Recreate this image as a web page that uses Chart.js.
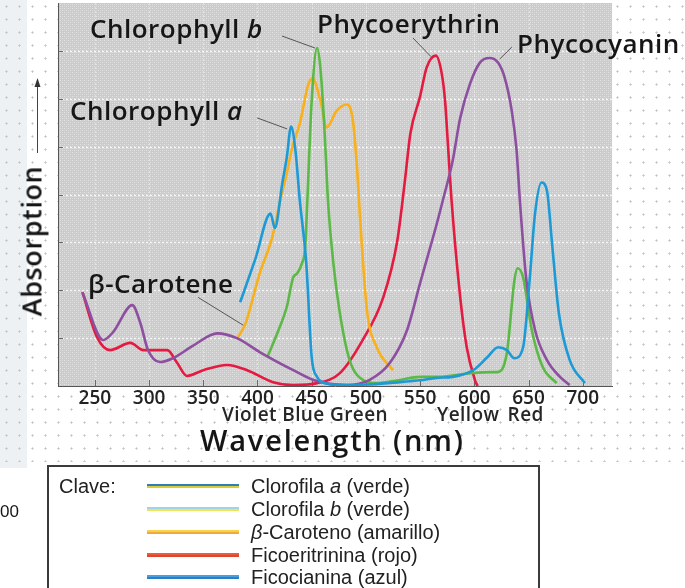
<!DOCTYPE html>
<html>
<head>
<meta charset="utf-8">
<script src="https://cdn.jsdelivr.net/npm/chart.js@4.4.1/dist/chart.umd.min.js"></script>
<style>
  html,body{margin:0;padding:0;}
  body{width:685px;height:588px;position:relative;overflow:hidden;background:#fff;font-family:"Open Sans",sans-serif;}
  #dots{position:absolute;left:0;top:0;width:685px;height:462px;
    background-image:radial-gradient(circle,#c2c2c2 0.9px,transparent 1.2px);background-size:13px 13px;}
  #strip{position:absolute;left:0;top:0;width:27px;height:468px;background:#edf1f4;}
  #c{position:absolute;left:0;top:0;}
  .t{position:absolute;white-space:nowrap;color:#161616;line-height:1;}
  .lab{font-size:26px;font-weight:600;letter-spacing:0.5px;}
  .sub{font-size:19px;font-weight:600;letter-spacing:0.4px;color:#262626;}
  #xtitle{left:200px;top:425px;font-size:29px;font-weight:600;letter-spacing:1.8px;}
  #ytitle{left:31px;top:241px;font-size:27px;font-weight:600;letter-spacing:0.6px;transform:translate(-50%,-50%) rotate(-90deg);}
  #key{position:absolute;left:47px;top:465px;width:489px;height:140px;border:2px solid #3b3b3b;background:#fff;
    font-family:"Liberation Sans",Arial,sans-serif;font-size:20px;color:#222;}
  #key .row{position:absolute;left:202px;line-height:1;}
  #key .sw{position:absolute;left:98px;width:92px;height:4px;}
  #key i{font-style:italic;}
</style>
</head>
<body>
<div id="strip"></div>
<div id="dots"></div>
<canvas id="c" width="685" height="588"></canvas>

<div class="t lab" style="left:90px;top:15px">Chlorophyll <i>b</i></div>
<div class="t lab" style="left:317px;top:10px">Phycoerythrin</div>
<div class="t lab" style="left:517px;top:30px">Phycocyanin</div>
<div class="t lab" style="left:70px;top:97px">Chlorophyll <i>a</i></div>
<div class="t lab" style="left:88px;top:270px">β-Carotene</div>

<div class="t sub" style="left:222px;top:405px">Violet Blue Green</div>
<div class="t sub" style="left:437px;top:405px;word-spacing:3px">Yellow Red</div>
<div class="t" id="xtitle">Wavelength (nm)</div>
<div class="t" id="ytitle">Absorption</div>
<div class="t" style="left:0;top:503px;font-size:17px;font-family:'Liberation Sans',Arial,sans-serif">00</div>

<div id="key">
  <div class="row" style="left:10px;top:9px">Clave:</div>
  <div class="sw" style="top:17px;background:linear-gradient(#2f7fb4 50%,#d9cc3a 50%)"></div>
  <div class="row" style="top:9px">Clorofila <i>a</i> (verde)</div>
  <div class="sw" style="top:40px;background:linear-gradient(#9fd3e8 50%,#efe35a 50%)"></div>
  <div class="row" style="top:32px">Clorofila <i>b</i> (verde)</div>
  <div class="sw" style="top:63px;background:linear-gradient(#f6d24a 50%,#f0a93a 50%)"></div>
  <div class="row" style="top:55px"><i>β</i>-Caroteno (amarillo)</div>
  <div class="sw" style="top:86px;background:linear-gradient(#ec5a3c 50%,#e2452e 50%)"></div>
  <div class="row" style="top:78px">Ficoeritrinina (rojo)</div>
  <div class="sw" style="top:108px;background:linear-gradient(#4aa0dc 50%,#2c7fc4 50%)"></div>
  <div class="row" style="top:100px">Ficocianina (azul)</div>
</div>

<script>
// wavelength axis ticks (nm) and absorption gridlines
const wavelengthTicks = [250, 300, 350, 400, 450, 500, 550, 600, 650, 700];
const absorptionTicks = [1, 2, 3, 4, 5, 6, 7];

// Chlorophyll a (blue)
const chlA_nm  = [384, 398, 412, 416, 423, 427, 431, 435, 439, 445, 450, 455, 460, 470, 485, 500, 520, 540, 550, 565, 580, 599, 612, 622, 630, 637, 645, 651, 656, 662, 667, 672, 678, 688, 702];
const chlA_abs = [1.75, 2.65, 3.60, 3.30, 4.25, 4.77, 5.42, 4.92, 3.88, 2.56, 0.60, 0.19, 0.08, 0.03, 0.02, 0.03, 0.06, 0.10, 0.12, 0.17, 0.19, 0.33, 0.60, 0.81, 0.75, 0.58, 0.81, 2.21, 3.60, 4.25, 4.08, 2.90, 1.52, 0.54, 0.06];

// Chlorophyll b (green)
const chlB_nm  = [409, 420, 427, 433, 436.5, 441, 444, 446, 450, 455, 458, 462, 465, 470, 476, 485, 497, 510, 530, 550, 565, 580, 599, 615, 621, 630, 637, 640, 645, 653, 663, 676];
const chlB_abs = [0.60, 1.20, 1.65, 2.27, 2.35, 2.56, 2.90, 3.88, 5.96, 7.06, 6.65, 5.27, 3.88, 2.56, 1.52, 0.54, 0.13, 0.06, 0.12, 0.19, 0.19, 0.22, 0.27, 0.29, 0.29, 0.69, 2.21, 2.46, 2.27, 1.17, 0.40, 0.06];

// beta-carotene (orange)
const carot_nm  = [381, 389, 402, 413.5, 421, 427, 432, 439, 447, 451, 458, 464, 473, 482.5, 488, 492, 494.5, 501, 510, 525];
const carot_abs = [0.98, 1.31, 2.35, 3.10, 3.88, 4.44, 4.98, 5.48, 6.31, 6.42, 5.96, 5.40, 5.75, 5.88, 5.54, 4.50, 3.55, 1.58, 0.81, 0.33];

// Phycoerythrin (red)
const phycoE_nm  = [238.5, 252, 264, 282.7, 294.7, 310, 316.8, 326, 335, 350, 372, 390.5, 414.4, 433, 455, 476, 497, 516, 529, 536, 541, 550, 556, 564.5, 570, 573, 576, 579, 587, 593, 600.5, 603];
const phycoE_abs = [1.96, 1.02, 0.75, 0.90, 0.75, 0.75, 0.75, 0.48, 0.21, 0.33, 0.44, 0.33, 0.08, 0.02, 0.06, 0.27, 0.96, 1.85, 3.04, 4.29, 5.27, 6.05, 6.65, 6.90, 6.52, 5.96, 4.92, 3.88, 1.85, 0.81, 0.13, 0.0];

// Phycocyanin (purple)
const phycoC_nm  = [238.5, 257.8, 267, 284.5, 292, 299, 310, 322, 341, 363, 381, 402, 433, 451, 465, 482.5, 503.5, 522, 538, 550, 565.5, 571, 580, 587, 596, 605, 614, 622, 628, 634.5, 639, 642, 648, 656, 667, 679, 688];
const phycoC_abs = [1.96, 0.96, 1.13, 1.69, 1.31, 0.75, 0.50, 0.58, 0.85, 1.10, 1.00, 0.71, 0.33, 0.13, 0.05, 0.02, 0.13, 0.48, 1.17, 2.15, 3.40, 3.88, 4.70, 5.60, 6.31, 6.75, 6.85, 6.75, 6.44, 5.75, 4.92, 3.88, 2.21, 1.17, 0.54, 0.19, 0.02];

// label leader lines, in (nm, absorption)
const leaders = [
  [[422.7, 7.31], [453, 7.06]],
  [[543.4, 7.27], [560, 6.88]],
  [[634.6, 7.08], [623.5, 6.83]],
  [[399.7, 5.60], [427.3, 5.37]],
  [[345.3, 1.85], [386.8, 1.27]]
];

const pts = (xs, ys) => xs.map((v, i) => ({x: v, y: ys[i]}));
const line = (label, xs, ys, color) => ({label, data: pts(xs, ys), borderColor: color, borderWidth: 2.6,
  pointRadius: 0, fill: false, cubicInterpolationMode: 'monotone'});

// dotted grey paper inside the plot
const pc = document.createElement('canvas'); pc.width = 4; pc.height = 4;
const p = pc.getContext('2d');
p.fillStyle = '#cbcbcb'; p.fillRect(0, 0, 4, 4);
p.fillStyle = '#e3e3e3'; p.fillRect(0, 0, 1, 1); p.fillRect(2, 2, 1, 1);
p.fillStyle = '#d8d8d8'; p.fillRect(2, 0, 1, 1); p.fillRect(0, 2, 1, 1);

const paper = {
  id: 'paper',
  beforeDraw(chart) {
    const {ctx, chartArea: a, scales: {x, y}} = chart;
    ctx.save();
    ctx.fillStyle = ctx.createPattern(pc, 'repeat');
    ctx.fillRect(a.left, a.top, a.right - a.left, a.bottom - a.top);
    ctx.setLineDash([2, 2]);
    ctx.lineWidth = 1.5;
    ctx.strokeStyle = 'rgba(255,255,255,0.8)';
    absorptionTicks.forEach(v => {
      const py = Math.round(y.getPixelForValue(v)) + 0.5;
      ctx.beginPath(); ctx.moveTo(a.left, py); ctx.lineTo(a.right, py); ctx.stroke();
    });
    ctx.strokeStyle = 'rgba(255,255,255,0.45)';
    ctx.lineWidth = 1;
    wavelengthTicks.forEach(v => {
      const px = Math.round(x.getPixelForValue(v)) + 0.5;
      ctx.beginPath(); ctx.moveTo(px, a.top); ctx.lineTo(px, a.bottom); ctx.stroke();
    });
    ctx.setLineDash([]);
    ctx.strokeStyle = '#6a6a6a';
    absorptionTicks.forEach(v => {
      const py = Math.round(y.getPixelForValue(v)) + 0.5;
      ctx.beginPath(); ctx.moveTo(a.left, py); ctx.lineTo(a.left + 5, py); ctx.stroke();
    });
    wavelengthTicks.forEach(v => {
      const px = Math.round(x.getPixelForValue(v)) + 0.5;
      ctx.beginPath(); ctx.moveTo(px, a.bottom); ctx.lineTo(px, a.bottom - 6); ctx.stroke();
    });
    ctx.restore();
  },
  afterDraw(chart) {
    const {ctx, scales: {x, y}} = chart;
    ctx.save();
    ctx.strokeStyle = '#555'; ctx.lineWidth = 1;
    leaders.forEach(([s, e]) => {
      ctx.beginPath();
      ctx.moveTo(x.getPixelForValue(s[0]), y.getPixelForValue(s[1]));
      ctx.lineTo(x.getPixelForValue(e[0]), y.getPixelForValue(e[1]));
      ctx.stroke();
    });
    // arrow beside the y title
    ctx.strokeStyle = '#444';
    ctx.beginPath(); ctx.moveTo(37.5, 153); ctx.lineTo(37.5, 84); ctx.stroke();
    ctx.fillStyle = '#333';
    ctx.beginPath(); ctx.moveTo(37.5, 78); ctx.lineTo(34.5, 87); ctx.lineTo(40.5, 87); ctx.closePath(); ctx.fill();
    ctx.restore();
  }
};

new Chart(document.getElementById('c'), {
  type: 'line',
  data: {
    datasets: [
      line('Chlorophyll a', chlA_nm, chlA_abs, '#1d9ad6'),
      line('Phycocyanin', phycoC_nm, phycoC_abs, '#8d4f9f'),
      line('Chlorophyll b', chlB_nm, chlB_abs, '#5cb947'),
      line('beta-Carotene', carot_nm, carot_abs, '#f8b01c'),
      line('Phycoerythrin', phycoE_nm, phycoE_abs, '#e31b41')
    ]
  },
  options: {
    responsive: false,
    animation: false,
    layout: {padding: {left: 58, right: 73, top: 3, bottom: 0}},
    plugins: {legend: {display: false}, tooltip: {enabled: false}},
    scales: {
      x: {
        type: 'linear', min: 216, max: 727,
        afterBuildTicks: s => { s.ticks = wavelengthTicks.map(v => ({value: v})); },
        afterFit: s => { s.height = 202; },
        grid: {display: false, drawTicks: false},
        border: {display: true, color: '#555', width: 1},
        ticks: {font: {family: 'Open Sans', size: 19, weight: '600'}, color: '#222', padding: 1, maxRotation: 0, autoSkip: false}
      },
      y: {
        min: 0, max: 8,
        afterFit: s => { s.width = 0; },
        grid: {display: false, drawTicks: false},
        border: {display: true, color: '#555', width: 1},
        ticks: {display: false}
      }
    }
  },
  plugins: [paper]
});
</script>
</body>
</html>
